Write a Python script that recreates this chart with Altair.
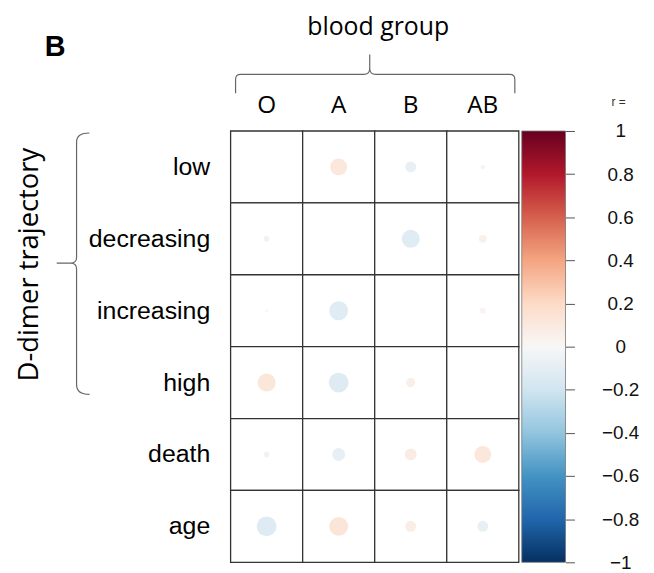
import altair as alt
import pandas as pd

# ---------------- data ----------------
cols = ["O", "A", "B", "AB"]
rows = ["low", "decreasing", "increasing", "high", "death", "age"]

r_low = [None, 0.113, -0.074, 0.03]
r_decreasing = [-0.039, None, -0.121, 0.052]
r_increasing = [-0.02, -0.127, None, 0.039]
r_high = [0.121, -0.133, 0.061, None]
r_death = [-0.039, -0.087, 0.08, 0.113]
r_age = [-0.133, 0.127, 0.074, -0.074]

colorbar_ticks = [-1, -0.8, -0.6, -0.4, -0.2, 0, 0.2, 0.4, 0.6, 0.8, 1]
rdbu_colors = ["#053061", "#2166AC", "#4393C3", "#92C5DE", "#D1E5F0", "#F7F7F7",
               "#FDDBC7", "#F4A582", "#D6604D", "#B2182B", "#67001F"]

matrix = [r_low, r_decreasing, r_increasing, r_high, r_death, r_age]
records = []
for rname, vals in zip(rows, matrix):
    for cname, v in zip(cols, vals):
        records.append({"row": rname, "col": cname, "r": v})
cells = pd.DataFrame(records)
circles = cells.dropna().copy()
circles["absr"] = circles["r"].abs()

# ---------------- layout constants ----------------
W, H = 290, 434
one = pd.DataFrame({"k": [0]})
cb = pd.DataFrame({"lo": [colorbar_ticks[0]], "hi": [colorbar_ticks[-1]]})
band = alt.Scale(paddingInner=0, paddingOuter=0)

xenc = alt.X("col:N", sort=cols, scale=band,
             axis=alt.Axis(orient="top", title="blood group", ticks=False, tickSize=0,
                           domain=False, labelAngle=0, labelFont="Open Sans",
                           labelFontSize=24.5, labelColor="#000", labelPadding=14,
                           titleFont="Open Sans", titleFontSize=25, titleFontWeight="normal",
                           titleColor="#000", titleX=148, titleY=-97,
                           titleBaseline="alphabetic"))
yenc = alt.Y("row:N", sort=rows, scale=band,
             axis=alt.Axis(orient="left", title="D-dimer trajectory", ticks=False, tickSize=0,
                           domain=False, labelFont="Liberation Sans", labelFontSize=25,
                           labelColor="#000", labelPadding=21,
                           titleFont="Open Sans", titleFontSize=27.5, titleFontWeight="normal",
                           titleColor="#000", titleX=-202, titleY=134, titleAngle=270,
                           titleBaseline="middle", titleAlign="center"))

grid = alt.Chart(cells).mark_rect(fill="white", stroke="#333", strokeWidth=1.3).encode(
    x=xenc, y=yenc)

dots = alt.Chart(circles).mark_circle(opacity=1).encode(
    x=alt.X("col:N", sort=cols, scale=band),
    y=alt.Y("row:N", sort=rows, scale=band, axis=None),
    color=alt.Color("r:Q", scale=alt.Scale(domain=colorbar_ticks, range=rdbu_colors),
                    legend=None),
    size=alt.Size("absr:Q", scale=alt.Scale(type="pow", exponent=2, domain=[0, 1],
                                            range=[0, 22500]), legend=None),
)

gradient = alt.Gradient(
    gradient="linear",
    stops=[alt.GradientStop(offset=i / (len(rdbu_colors) - 1), color=c)
           for i, c in enumerate(rdbu_colors)],
    x1=0, x2=0, y1=1, y2=0)

colorbar = alt.Chart(cb).mark_rect(fill=gradient, stroke="#777", strokeWidth=0.8).encode(
    x=alt.value(W + 3), x2=alt.value(W + 47),
    y=alt.Y("lo:Q", scale=alt.Scale(domain=[-1, 1], nice=False, zero=False),
            axis=alt.Axis(orient="right", offset=47, values=colorbar_ticks, format="~g",
                          domain=False, grid=False, tickColor="#555", tickSize=9,
                          tickWidth=1, labelFont="Liberation Sans", labelFontSize=19,
                          labelColor="#111", labelAlign="center", labelPadding=46,
                          labelBaseline="middle", title="r =", titleAngle=0,
                          titleFont="Liberation Sans", titleFontSize=12,
                          titleFontWeight="normal", titleColor="#333",
                          titleX=53, titleY=-26, titleAlign="center",
                          titleBaseline="alphabetic")),
    y2="hi:Q",
)

panel = alt.Chart(one).mark_text(text="B", font="Liberation Sans", fontSize=29,
                                 fontWeight="bold", align="left",
                                 baseline="alphabetic", color="#000").encode(
    x=alt.value(-187), y=alt.value(-75))

# curly braces as custom symbol paths (unit scale 100 px)
top_brace_path = ("M -1.35 0.19 L -1.35 0.05 Q -1.35 0 -1.30 0 L -0.06 0 Q 0 0 0 -0.06 "
                  "L 0 -0.20 M 0 -0.06 Q 0 0 0.06 0 L 1.41 0 Q 1.46 0 1.46 0.05 L 1.46 0.19")
left_brace_path = ("M 0.33 -1.31 Q 0.20 -1.31 0.20 -1.22 L 0.20 -0.06 Q 0.20 0 0.14 0 "
                   "L 0 0 M 0.14 0 Q 0.20 0 0.20 0.06 L 0.20 1.22 Q 0.20 1.32 0.33 1.32")

top_brace = alt.Chart(one).mark_point(shape=top_brace_path, size=40000, filled=False,
                                      stroke="#666", strokeWidth=1.2, opacity=1).encode(
    x=alt.value(372 - 232), y=alt.value(73 - 130))
left_brace = alt.Chart(one).mark_point(shape=left_brace_path, size=40000, filled=False,
                                       stroke="#666", strokeWidth=1.2, opacity=1).encode(
    x=alt.value(57 - 232), y=alt.value(263 - 130))

chart = alt.layer(grid, dots, colorbar, panel, top_brace, left_brace).resolve_scale(
    y="independent", x="shared"
).properties(
    width=W, height=H,
    autosize=alt.AutoSizeParams(type="none"),
    padding={"left": 224, "top": 122, "right": 128, "bottom": 9},
    background="white",
).configure_view(strokeWidth=0)

chart.save("out.html", embed_options={"renderer": "svg", "actions": False})
